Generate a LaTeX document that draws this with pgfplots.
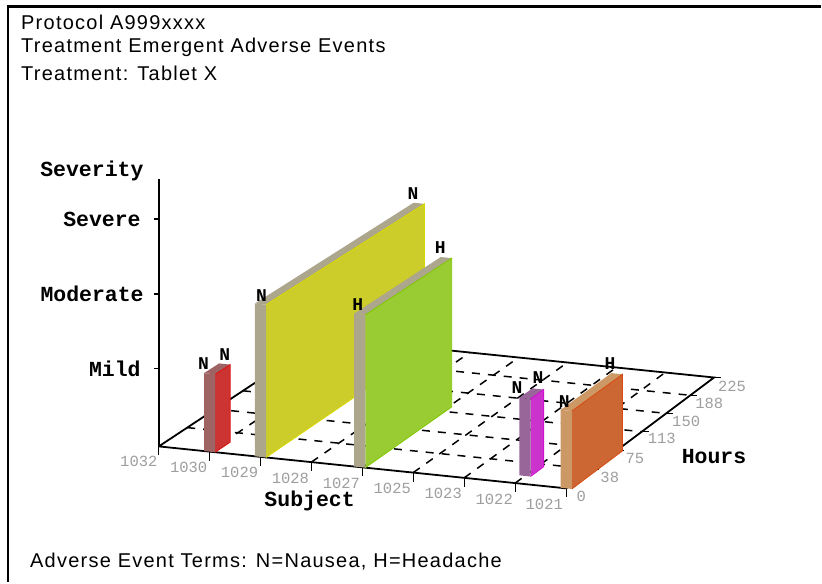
\documentclass[border=0pt]{standalone}
\usepackage{fontspec}
\usepackage{pgfplots}
\pgfplotsset{compat=1.18}
\setmainfont{Liberation Sans}[LetterSpace=6.3]
\newfontfamily\labfam{Liberation Mono Bold}
\newfontfamily\tickfam{Liberation Mono}

\definecolor{yellowface}{HTML}{CCCC2B}
\definecolor{yellowedge}{HTML}{D8D800}
\definecolor{yellowend}{HTML}{ACA68C}
\definecolor{greenface}{HTML}{99CC33}
\definecolor{greenedge}{HTML}{80C800}
\definecolor{greenend}{HTML}{ACA68C}
\definecolor{redface}{HTML}{CC3333}
\definecolor{rededge}{HTML}{DD1111}
\definecolor{redend}{HTML}{9E6464}
\definecolor{magface}{HTML}{CC33CC}
\definecolor{magedge}{HTML}{D010D0}
\definecolor{magend}{HTML}{996699}
\definecolor{orgface}{HTML}{CC6633}
\definecolor{orgedge}{HTML}{D84A10}
\definecolor{orgend}{HTML}{CC9966}
\definecolor{tickgray}{gray}{0.62}

% Floor coordinates: s = subject position 0..8, h = hours 0..225, z = severity 0..3.
% d widens a bar sideways, ox and oy are pixel shifts for ticks and labels.
\pgfplotsset{
  /pgfplots/table/floor/.style={row sep=crcr,
    x expr={px(\thisrow{s}+\thisrow{d}*0.11,\thisrow{h})},
    y expr={py(\thisrow{s}+\thisrow{d}*0.11,\thisrow{h},\thisrow{z})}},
  /pgfplots/table/shifted/.style={row sep=crcr,
    x expr={px(\thisrow{s},\thisrow{h})+\thisrow{ox}},
    y expr={py(\thisrow{s},\thisrow{h},\thisrow{z})+\thisrow{oy}}},
  gridline/.style={black,line width=1.5pt,dash pattern=on 8pt off 8pt},
  frameline/.style={black,line width=1.8pt},
  tagged/.style={draw=none,mark=none,nodes near coords,point meta=explicit symbolic,
    nodes near coords style={anchor=center,inner sep=0pt,#1}},
}

% One adverse event: subject, first hour, last hour, severity, end colour, side colour, edge colour
\newcommand{\eventbar}[7]{%
  \addplot[fill=#5,draw=none] table[floor]{s d h z\\#1 -1 #2 #4\\#1 1 #2 #4\\#1 1 #3 #4\\#1 -1 #3 #4\\};
  \addplot[fill=#6,draw=#7,line width=0.8pt] table[floor]{s d h z\\#1 1 #2 0\\#1 1 #3 0\\#1 1 #3 #4\\#1 1 #2 #4\\};
  \addplot[fill=#5,draw=none] table[floor]{s d h z\\#1 -1 #2 0\\#1 1 #2 0\\#1 1 #2 #4\\#1 -1 #2 #4\\};
}
\newcommand{\hourline}[1]{\addplot[gridline] table[floor]{s d h z\\0 0 #1 0\\8 0 #1 0\\};}
\newcommand{\subjectline}[1]{\addplot[gridline] table[floor]{s d h z\\#1 0 0 0\\#1 0 225 0\\};}

\begin{document}
\begin{tikzpicture}
\begin{axis}[
  declare function={
    den(\s,\h)=1-0.002068*\s/8+0.04426*\h/225;
    px(\s,\h)=(406.83*\s/8+179.34*\h/225+159)/den(\s,\h);
    py(\s,\h,\z)=583-(40.99*\s/8-94.04*\h/225+447)/den(\s,\h)+(3*(\z>0)+75*\z)/(1+0.05*\h/225);
  },
  width=822pt,height=583pt,scale only axis,
  xmin=0,xmax=822,ymin=0,ymax=583,
  hide axis,clip=false,
]
% keeps the full page size
\addplot[draw=none] coordinates {(0,0) (822,583)};
% page frame, open at the right and at the bottom
\addplot[black,line width=2.2pt] coordinates {(8,0) (8,576.5) (822,576.5)};

% floor grid
\hourline{37.5}\hourline{75}\hourline{112.5}\hourline{150}\hourline{187.5}
\subjectline{1}\subjectline{2}\subjectline{3}\subjectline{4}\subjectline{5}\subjectline{6}\subjectline{7}

% floor outline and severity axis
\addplot[frameline] table[floor]{s d h z\\0 0 0 0\\8 0 0 0\\8 0 225 0\\0 0 225 0\\0 0 0 0\\};
\addplot[frameline] table[floor]{s d h z\\0 0 0 0\\0 0 0 3.53\\};

% severity ticks
\addplot[frameline] table[shifted]{s h z ox oy\\0 0 1 0 0\\0 0 1 -5 0\\};
\addplot[frameline] table[shifted]{s h z ox oy\\0 0 2 0 0\\0 0 2 -5 0\\};
\addplot[frameline] table[shifted]{s h z ox oy\\0 0 3 0 0\\0 0 3 -5 0\\};

% subject ticks
\pgfplotsinvokeforeach{0,1,2,3,4,5,6,7,8}{
  \addplot[black,line width=1.3pt] table[shifted]{s h z ox oy\\#1 0 0 0 0\\#1 0 0 0 -9\\};
}
% hour ticks
\pgfplotsinvokeforeach{37.5,75,112.5,150,187.5,225}{
  \addplot[black,line width=1.5pt] table[shifted]{s h z ox oy\\8 #1 0 0 0\\8 #1 0 7 0\\};
}

% events
\eventbar{1}{0}{20}{1}{redend}{redface}{rededge}
\eventbar{2}{0}{222}{2}{yellowend}{yellowface}{yellowedge}
\eventbar{3.95}{0}{122}{2}{greenend}{greenface}{greenedge}
\eventbar{7}{14}{33}{1}{magend}{magface}{magedge}
\eventbar{8}{0}{75}{1}{orgend}{orgface}{orgedge}

% event term letters at the first and last hour of each event
\addplot[tagged={font=\labfam\fontsize{18}{18}\selectfont,text=black}] table[shifted,meta=t]{
s h z ox oy t\\
1 0 1 -6 10 N\\
1 20 1 0 9 N\\
2 0 2 1 9 N\\
2 222 2 -6 10 N\\
3.95 0 2 -2 10 H\\
3.95 122 2 -6 10 H\\
7 14 1 -8 11 N\\
7 33 1 0 11 N\\
8 0 1 -2 9 N\\
8 75 1 -7 10 H\\
};

% subject names
\addplot[tagged={font=\tickfam\fontsize{15.5}{15.5}\selectfont,text=tickgray}] table[shifted,meta=t]{
s h z ox oy t\\
0 0 0 -20 -15 1032\\
1 0 0 -21 -16 1030\\
2 0 0 -21 -16 1029\\
3 0 0 -21 -16 1028\\
4 0 0 -21 -16 1027\\
5 0 0 -21 -16 1025\\
6 0 0 -21 -16 1023\\
7 0 0 -21 -16 1022\\
8 0 0 -22 -16 1021\\
};
% hour values
\addplot[tagged={font=\tickfam\fontsize{15.5}{15.5}\selectfont,text=tickgray}] table[shifted,meta=t]{
s h z ox oy t\\
8 0 0 15 -8 0\\
8 37.5 0 18 -8 38\\
8 75 0 18 -8 75\\
8 112.5 0 20 -7 113\\
8 150 0 20 -8 150\\
8 187.5 0 19 -8 188\\
8 225 0 18 -9 225\\
};

% headings and footnote
\path (axis cs:21,561) node[anchor=west,inner sep=0pt,font=\fontsize{20}{20}\selectfont] {Protocol A999xxxx};
\path (axis cs:21,536) node[anchor=west,inner sep=0pt,font=\fontsize{20}{20}\selectfont] {Treatment Emergent Adverse Events};
\path (axis cs:21,510) node[anchor=west,inner sep=0pt,font=\fontsize{20}{20}\selectfont] {Treatment: Tablet X};
\path (axis cs:30,21) node[anchor=west,inner sep=0pt,font=\fontsize{20}{20}\selectfont] {Adverse Event Terms: N=Nausea, H=Headache};

% axis titles and severity names
\path (axis cs:92,412) node[inner sep=0pt,font=\labfam\fontsize{21.5}{21.5}\selectfont] {Severity};
\path (axis cs:141,363) node[anchor=east,inner sep=0pt,font=\labfam\fontsize{21.5}{21.5}\selectfont] {Severe};
\path (axis cs:144,289) node[anchor=east,inner sep=0pt,font=\labfam\fontsize{21.5}{21.5}\selectfont] {Moderate};
\path (axis cs:141,214) node[anchor=east,inner sep=0pt,font=\labfam\fontsize{21.5}{21.5}\selectfont] {Mild};
\path (axis cs:310,81) node[inner sep=0pt,font=\labfam\fontsize{21.5}{21.5}\selectfont] {Subject};
\path (axis cs:715,126) node[inner sep=0pt,font=\labfam\fontsize{21.5}{21.5}\selectfont] {Hours};
\end{axis}
\end{tikzpicture}
\end{document}
